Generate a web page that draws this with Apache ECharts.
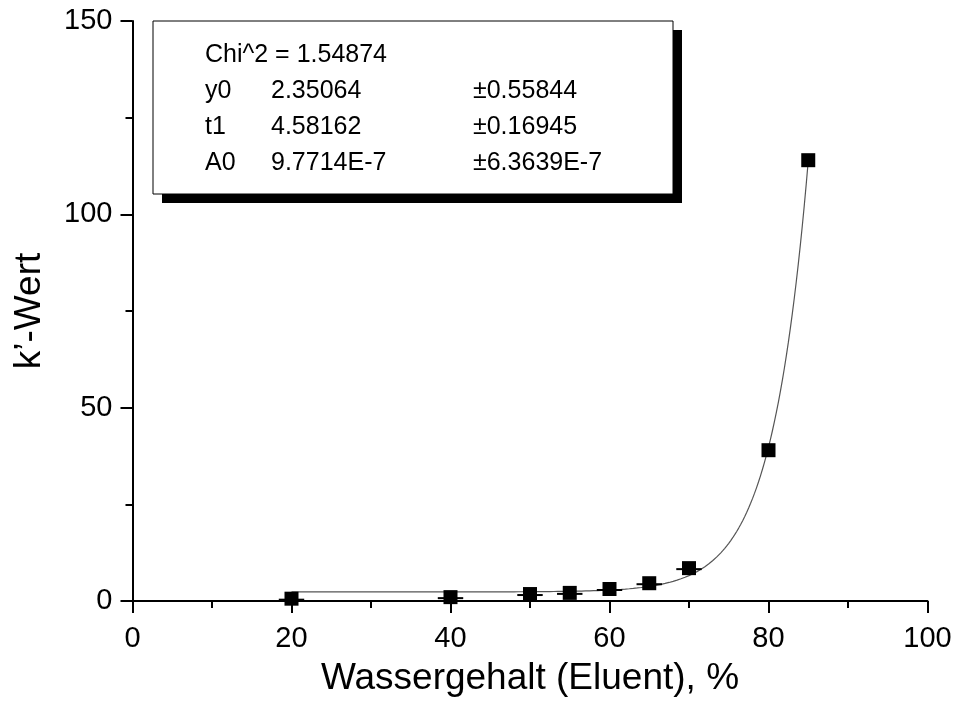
<!DOCTYPE html>
<html>
<head>
<meta charset="utf-8">
<script src="https://cdn.jsdelivr.net/npm/echarts@6/dist/echarts.min.js"></script>
<style>
  html, body { margin: 0; padding: 0; background: #fff; overflow: hidden; }
  #chart { width: 958px; height: 702px; }
</style>
</head>
<body>
<div id="chart"></div>
<script>
// Measured retention factor vs. water content of the eluent
const waterContent = [20, 40, 50, 55, 60, 65, 70, 80, 85];
const kValues      = [0.6, 1.0, 1.8, 2.1, 3.1, 4.6, 8.5, 39.0, 114.0];
// horizontal error (±, in % water) drawn as a bar through each point
const xErrors      = [1.6, 1.6, 1.6, 1.6, 1.6, 1.6, 1.6, 0, 0];

// Exponential fit y = y0 + A0 * exp(x / t1), parameters from the fit report
const fitNames   = ['y0', 't1', 'A0'];
const fitValues  = [2.35064, 4.58162, 9.7714E-7];
const fitText    = ['2.35064', '4.58162', '9.7714E-7'];
const fitErrText = ['±0.55844', '±0.16945', '±6.3639E-7'];
const chiSqText  = 'Chi^2 = 1.54874';
const fitRange   = [20, 85];

const xTicks = [0, 20, 40, 60, 80, 100];
const yTicks = [0, 50, 100, 150];

const [y0, t1, A0] = fitValues;
const fitCurve = [];
for (let x = fitRange[0]; x <= fitRange[1] + 1e-9; x += 0.25) {
  fitCurve.push([x, y0 + A0 * Math.exp(x / t1)]);
}

const points = waterContent.map((x, i) => [x, kValues[i], xErrors[i]]);

const chart = echarts.init(document.getElementById('chart'), null, { renderer: 'canvas' });

const FONT = '"Liberation Sans", Arial, sans-serif';
const LABEL_SIZE = 29;
const TITLE_SIZE = 37;
const BOX_FONT = 25;

// Fit report box with drop shadow
const boxL = 153, boxT = 21, boxW = 520, boxH = 173, shadow = 9;
const rowY = [55, 91, 127, 163];
const colX = [205, 271, 473];
const graphics = [
  { type: 'rect', shape: { x: boxL + shadow, y: boxT + shadow, width: boxW, height: boxH },
    style: { fill: '#000' }, z: 10 },
  { type: 'rect', shape: { x: boxL, y: boxT, width: boxW, height: boxH },
    style: { fill: '#fff', stroke: '#000', lineWidth: 1 }, z: 11 },
  { type: 'text', x: colX[0], y: rowY[0], z: 12,
    style: { text: chiSqText, font: BOX_FONT + 'px ' + FONT, fill: '#000', verticalAlign: 'middle' } }
];
fitNames.forEach((n, i) => {
  [n, fitText[i], fitErrText[i]].forEach((t, j) => {
    graphics.push({ type: 'text', x: colX[j], y: rowY[i + 1], z: 12,
      style: { text: t, font: BOX_FONT + 'px ' + FONT, fill: '#000', verticalAlign: 'middle' } });
  });
});

chart.setOption({
  animation: false,
  backgroundColor: '#fff',
  grid: { left: 132.5, width: 795, top: 21, height: 581, containLabel: false },
  xAxis: {
    type: 'value', min: xTicks[0], max: xTicks[xTicks.length - 1], interval: 20,
    name: 'Wassergehalt (Eluent), %', nameLocation: 'middle', nameGap: 59,
    nameTextStyle: { fontFamily: FONT, fontSize: TITLE_SIZE, color: '#000' },
    axisLine: { show: true, lineStyle: { color: '#000', width: 2 } },
    axisTick: { show: true, inside: false, length: 12, lineStyle: { color: '#000', width: 2 } },
    minorTick: { show: true, splitNumber: 2, length: 7, lineStyle: { color: '#000', width: 2 } },
    axisLabel: { fontFamily: FONT, fontSize: LABEL_SIZE, color: '#000', margin: 23 },
    splitLine: { show: false }
  },
  yAxis: {
    type: 'value', min: yTicks[0], max: yTicks[yTicks.length - 1], interval: 50,
    name: 'k’-Wert', nameLocation: 'middle', nameGap: 84,
    nameTextStyle: { fontFamily: FONT, fontSize: TITLE_SIZE, color: '#000' },
    axisLine: { show: true, onZero: false, lineStyle: { color: '#000', width: 2 } },
    axisTick: { show: true, inside: false, length: 12, lineStyle: { color: '#000', width: 2 } },
    minorTick: { show: true, splitNumber: 2, length: 7, lineStyle: { color: '#000', width: 2 } },
    axisLabel: { fontFamily: FONT, fontSize: LABEL_SIZE, color: '#000', margin: 20 },
    splitLine: { show: false }
  },
  graphic: graphics,
  series: [
    {
      name: 'Fit', type: 'line', data: fitCurve, showSymbol: false, smooth: false,
      lineStyle: { color: '#555', width: 1.2 }, z: 2
    },
    {
      name: 'Fehler', type: 'custom', data: points, z: 3,
      renderItem: (params, api) => {
        const x = api.value(0), y = api.value(1), e = api.value(2);
        if (!e) return null;
        const a = api.coord([x - e, y]);
        const b = api.coord([x + e, y]);
        return { type: 'line', shape: { x1: a[0], y1: a[1] + 1, x2: b[0], y2: b[1] + 1 },
                 style: { stroke: '#000', lineWidth: 2 } };
      }
    },
    {
      name: 'k’-Wert', type: 'scatter', data: points.map(p => [p[0], p[1]]),
      symbol: 'rect', symbolSize: 14, itemStyle: { color: '#000', opacity: 1 }, z: 4
    }
  ]
});
</script>
</body>
</html>
